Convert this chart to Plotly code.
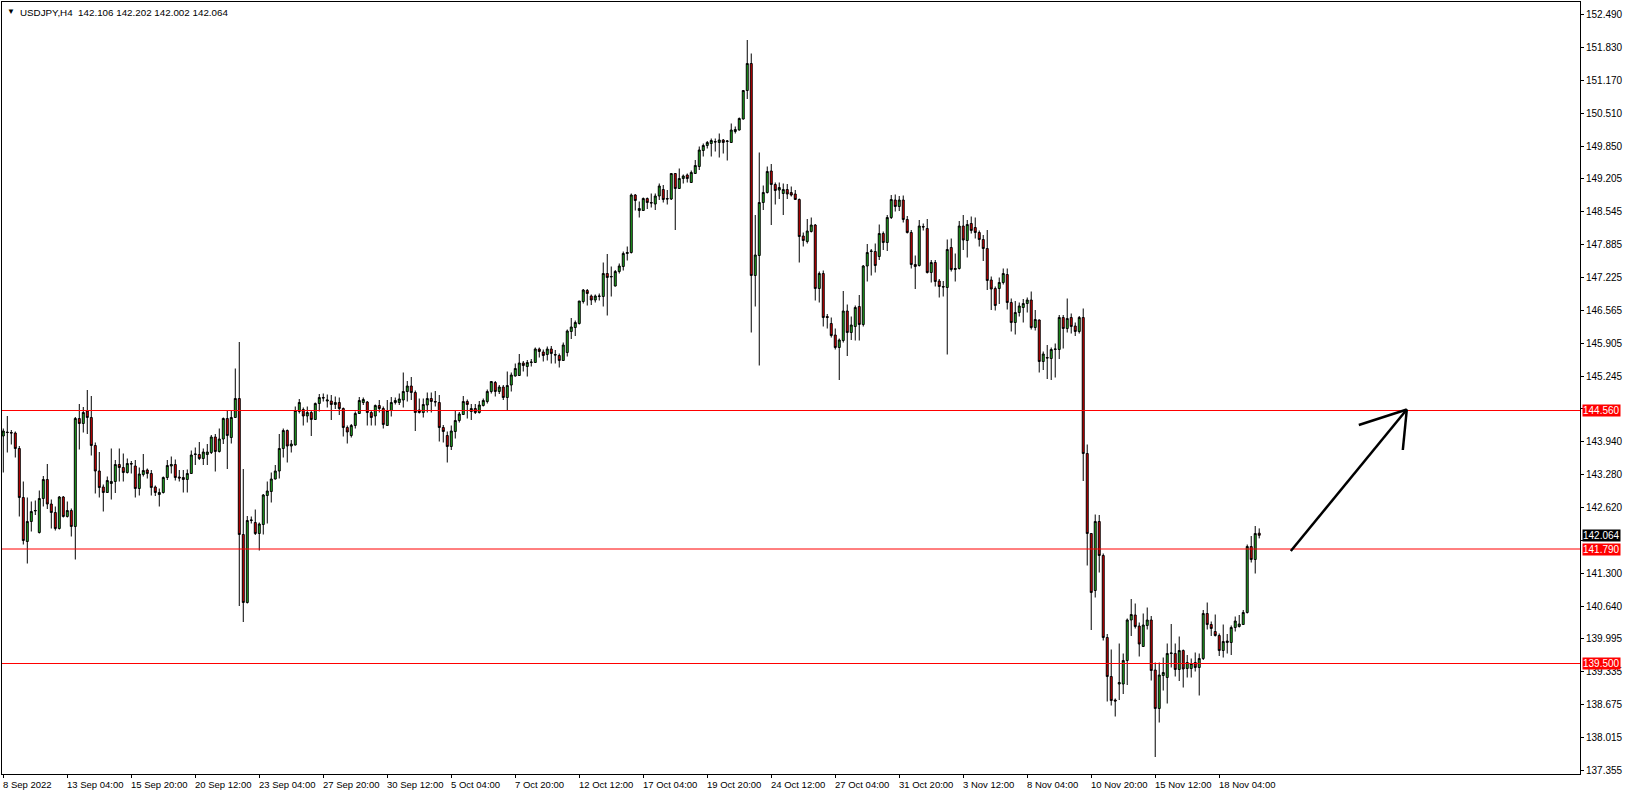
import plotly.graph_objects as go

symbol_header = "USDJPY,H4\u00a0\u00a0142.106 142.202 142.002 142.064"

opens = [
144.05,144.13,144.12,144.11,143.80,142.82,141.94,142.34,142.55,142.12,
142.80,143.18,142.69,142.52,142.20,142.83,142.44,142.56,142.24,144.40,
144.30,144.55,144.42,143.86,143.35,143.03,142.92,143.10,143.14,143.48,
143.42,143.32,143.50,143.45,143.00,143.28,143.37,143.30,143.03,142.88,
142.92,143.22,143.45,143.48,143.23,143.22,143.18,143.30,143.68,143.68,
143.60,143.68,143.72,144.03,143.74,143.99,144.40,144.02,144.42,144.80,
142.08,140.72,142.36,142.32,142.10,142.28,142.86,142.94,143.19,143.35,
143.80,144.16,143.85,143.87,144.54,144.58,144.45,144.52,144.38,144.70,
144.82,144.75,144.75,144.68,144.72,144.60,144.22,144.06,144.26,144.50,
144.72,144.73,144.52,144.45,144.66,144.60,144.26,144.56,144.72,144.72,
144.77,144.94,145.05,144.92,144.57,144.52,144.67,144.80,144.74,144.72,
144.22,144.06,143.84,144.14,144.36,144.48,144.74,144.54,144.60,144.52,
144.66,144.74,144.94,145.12,144.94,145.03,144.82,145.07,145.25,145.26,
145.51,145.44,145.52,145.52,145.79,145.73,145.68,145.79,145.68,145.66,
145.56,145.72,146.14,146.22,146.30,146.74,146.96,146.85,146.77,146.84,
146.84,147.30,147.23,147.05,147.34,147.44,147.70,147.72,148.87,148.56,
148.56,148.80,148.72,148.69,148.85,148.98,148.80,148.79,149.30,149.00,
149.20,149.27,149.12,149.30,149.44,149.76,149.86,149.90,149.94,149.92,
149.97,149.94,149.92,150.14,150.17,150.39,150.96,151.50,147.26,147.66,
148.72,148.92,149.35,149.08,148.97,148.90,148.98,148.92,148.89,148.78,
148.05,147.94,148.14,148.27,147.00,147.30,146.44,146.30,146.07,145.82,
145.96,146.55,146.12,146.24,146.64,146.28,147.45,147.74,147.74,147.64,
148.10,147.92,148.42,148.77,148.64,148.77,148.38,148.12,147.48,147.46,
148.24,148.20,147.32,147.52,147.15,147.04,147.02,147.82,147.38,147.40,
148.25,147.96,148.30,148.22,148.12,147.98,147.80,147.17,147.00,147.00,
147.12,147.28,146.72,146.32,146.52,146.62,146.70,146.77,146.22,146.37,
145.54,145.62,145.60,145.78,145.78,146.42,146.20,146.42,146.25,146.14,
146.42,143.70,142.10,140.96,142.34,141.66,140.02,139.24,138.77,139.09,
139.09,139.56,140.37,140.47,140.25,139.84,140.26,140.37,139.37,138.60,
139.26,139.22,139.70,139.70,139.38,139.76,139.40,139.40,139.52,139.42,
139.60,140.50,140.28,140.14,140.06,139.76,139.92,139.92,140.22,140.24,
140.28,140.52,141.84,141.58,142.106]

highs = [
144.20,144.45,144.17,144.14,143.85,143.14,142.82,142.74,142.76,142.96,
143.25,143.49,142.78,142.64,142.85,142.85,142.74,142.60,144.43,144.69,
144.63,144.97,144.85,143.92,143.73,143.08,143.24,143.80,143.57,143.80,
143.70,143.60,143.55,143.57,143.42,143.69,143.40,143.37,143.06,143.00,
143.24,143.57,143.64,143.58,143.37,143.37,143.38,143.76,143.82,143.93,
143.80,143.89,144.07,144.09,144.20,144.42,144.57,144.57,145.40,145.93,
143.39,142.45,142.44,142.58,142.32,142.89,143.14,143.32,143.47,144.09,
144.20,144.18,143.97,144.64,144.79,144.62,144.64,144.55,144.72,144.89,
144.90,144.88,144.87,144.84,144.82,144.62,144.26,144.29,144.54,144.83,
144.82,144.75,144.56,144.68,144.77,144.64,144.77,144.83,144.82,144.90,
145.32,145.15,145.23,144.96,144.80,144.80,144.92,144.92,144.95,144.87,
144.27,144.14,144.26,144.57,144.53,144.85,144.78,144.69,144.69,144.75,
144.80,144.98,145.15,145.15,145.07,145.07,145.34,145.32,145.50,145.69,
145.55,145.57,145.59,145.82,145.82,145.78,145.84,145.85,145.77,145.70,
145.92,146.18,146.41,146.36,146.75,146.99,146.99,146.88,146.88,146.90,
147.52,147.69,147.44,147.37,147.50,147.74,147.84,148.90,148.89,148.74,
148.82,148.82,148.90,148.90,149.10,149.07,148.97,149.30,149.31,149.40,
149.28,149.30,149.36,149.57,149.84,149.90,149.95,150.00,150.00,150.10,
149.99,149.97,150.30,150.24,150.42,150.97,151.97,151.70,148.47,149.72,
149.06,149.44,149.49,149.12,149.12,149.10,149.09,149.04,148.97,148.80,
148.12,148.39,148.42,148.29,147.34,147.36,146.49,146.42,146.20,146.00,
146.95,146.68,146.44,146.66,146.87,147.47,147.89,147.79,147.90,148.28,
148.14,148.47,148.87,148.88,148.85,148.86,148.45,148.17,147.66,148.37,
148.30,148.39,147.57,147.57,147.19,147.15,147.98,148.00,147.70,148.35,
148.47,148.37,148.44,148.42,148.16,148.07,148.17,147.24,147.04,147.22,
147.40,147.40,146.80,146.75,146.72,146.79,146.82,146.94,146.57,146.38,
145.74,145.87,145.82,145.90,146.47,146.47,146.80,146.50,146.32,146.45,
146.60,143.88,142.11,142.48,142.47,141.70,140.09,139.78,138.80,139.90,
139.70,140.40,140.79,140.70,140.32,140.50,140.62,140.45,139.52,139.52,
139.62,139.90,140.29,139.90,140.04,139.78,139.67,139.60,139.72,139.70,
140.57,140.72,140.34,140.48,140.10,140.28,140.09,140.26,140.44,140.47,
140.57,141.88,142.05,142.25,142.202]

lows = [
143.32,143.72,143.88,143.62,142.44,141.88,141.50,142.14,142.47,142.10,
142.64,142.59,142.20,142.16,142.18,142.42,142.42,142.04,141.58,143.78,
144.12,144.09,143.66,142.90,142.82,142.54,142.91,142.78,142.91,143.14,
143.14,143.30,143.30,142.82,142.86,143.24,143.20,142.86,142.85,142.64,
142.90,143.17,143.30,143.16,143.14,142.92,142.92,143.29,143.47,143.57,
143.47,143.47,143.69,143.34,143.72,143.89,143.39,143.90,144.41,140.65,
140.33,140.70,142.30,142.07,141.76,142.08,142.30,142.72,143.18,143.20,
143.62,143.52,143.72,143.86,144.50,144.26,144.32,144.05,144.37,144.54,
144.74,144.62,144.37,144.59,144.47,144.04,143.90,144.02,144.20,144.49,
144.67,144.26,144.26,144.26,144.52,144.20,144.25,144.44,144.68,144.67,
144.62,144.74,144.77,144.15,144.50,144.42,144.52,144.52,144.64,143.94,
143.92,143.52,143.77,144.00,144.32,144.47,144.40,144.37,144.49,144.50,
144.64,144.70,144.90,144.84,144.89,144.77,144.57,144.94,145.24,145.25,
145.34,145.24,145.44,145.52,145.62,145.54,145.56,145.50,145.50,145.42,
145.55,145.64,145.99,146.05,146.28,146.70,146.66,146.67,146.72,146.76,
146.64,146.46,146.84,147.04,147.30,147.36,147.56,147.70,148.56,148.42,
148.55,148.59,148.62,148.57,148.77,148.72,148.68,148.77,148.17,148.99,
149.10,149.12,149.11,149.29,149.37,149.64,149.80,149.64,149.74,149.62,
149.70,149.56,149.91,150.10,150.16,150.38,150.79,146.12,146.64,145.46,
148.57,148.90,148.27,148.68,148.79,148.47,148.79,148.84,148.77,147.52,
147.84,147.90,148.12,146.76,146.72,146.24,146.20,146.02,145.78,145.17,
145.92,145.65,145.97,145.96,145.96,146.24,147.14,147.26,147.32,147.57,
147.77,147.75,148.39,148.54,148.55,148.32,148.10,147.40,146.99,147.44,
148.16,147.30,147.12,147.04,146.82,146.84,145.68,147.34,147.14,147.38,
147.77,147.62,148.10,148.00,147.84,147.55,146.97,146.57,146.56,146.69,
147.08,146.58,146.14,146.08,146.44,146.32,146.52,146.18,146.16,145.32,
145.37,145.19,145.17,145.22,145.59,145.80,146.12,146.10,146.05,146.10,
143.15,141.46,140.17,140.82,141.32,139.96,138.74,138.66,138.44,138.77,
138.89,139.07,140.05,140.20,139.64,139.83,140.18,139.16,137.63,138.32,
138.96,138.70,139.42,139.24,139.15,139.02,139.22,139.22,139.34,138.86,
139.57,140.18,140.05,140.04,139.65,139.62,139.70,139.67,140.14,140.22,
140.27,140.50,141.52,141.30,142.002]

closes = [
144.15,144.12,144.11,143.80,142.82,141.96,142.34,142.54,142.56,142.80,
143.18,142.69,142.52,142.20,142.83,142.44,142.56,142.24,144.40,144.30,
144.52,144.42,143.86,143.35,143.02,142.92,143.16,143.14,143.48,143.42,
143.32,143.50,143.49,143.00,143.29,143.36,143.30,143.02,142.92,142.92,
143.22,143.46,143.48,143.22,143.21,143.18,143.30,143.67,143.69,143.60,
143.73,143.73,144.03,143.74,143.99,144.40,144.06,144.42,144.80,142.08,
140.72,142.36,142.37,142.10,142.29,142.87,142.95,143.19,143.35,143.80,
144.16,143.85,143.89,144.56,144.72,144.45,144.52,144.38,144.70,144.82,
144.81,144.77,144.68,144.72,144.60,144.22,144.13,144.26,144.50,144.76,
144.78,144.52,144.42,144.66,144.60,144.28,144.56,144.72,144.76,144.79,
144.94,145.05,144.92,144.52,144.52,144.68,144.80,144.74,144.73,144.22,
144.14,143.84,144.15,144.36,144.49,144.74,144.68,144.60,144.52,144.67,
144.76,144.94,145.14,144.94,145.03,144.82,145.06,145.27,145.40,145.51,
145.46,145.52,145.53,145.79,145.74,145.66,145.79,145.70,145.67,145.56,
145.87,146.15,146.23,146.32,146.75,146.97,146.90,146.77,146.85,146.85,
147.30,147.22,147.24,147.34,147.45,147.70,147.72,148.87,148.76,148.60,
148.80,148.72,148.71,148.85,149.05,148.78,148.79,149.30,149.00,149.20,
149.25,149.20,149.32,149.46,149.77,149.86,149.92,149.96,149.93,149.97,
149.92,149.95,150.17,150.18,150.40,150.96,151.50,147.26,147.67,148.72,
148.92,149.34,149.08,148.96,149.02,148.98,148.89,148.87,148.78,148.04,
147.96,148.15,148.27,147.00,147.30,146.42,146.42,146.06,145.82,145.97,
146.55,146.12,146.27,146.62,146.28,147.45,147.72,147.75,147.46,148.10,
147.92,148.42,148.78,148.64,148.77,148.38,148.12,147.48,147.44,148.25,
148.23,147.32,147.52,147.14,147.04,147.03,147.78,147.38,147.40,148.25,
147.97,148.28,148.16,148.12,147.98,147.80,147.16,146.99,146.66,147.12,
147.30,146.72,146.32,146.52,146.65,146.70,146.77,146.22,146.38,145.54,
145.69,145.61,145.78,145.79,146.42,146.20,146.40,146.24,146.14,146.42,
143.70,142.10,140.92,142.34,141.66,140.02,139.24,138.76,138.75,139.12,
139.56,140.37,140.48,140.24,139.89,140.27,140.37,139.36,138.60,139.27,
139.32,139.70,139.71,139.38,139.76,139.39,139.52,139.50,139.42,139.60,
140.50,140.28,140.20,140.06,139.76,139.94,139.95,140.22,140.35,140.29,
140.52,141.84,141.58,142.10,142.064]

level_lines = [144.560, 141.790, 139.500]
last_price = 142.064

price_ticks = [137.355, 138.015, 138.675, 139.335, 139.995, 140.640, 141.300,
               141.960, 142.620, 143.280, 143.940, 144.600, 145.245, 145.905,
               146.565, 147.225, 147.885, 148.545, 149.205, 149.850, 150.510,
               151.170, 151.830, 152.490]
# tick labels that sit under the price boxes on the right axis
hidden_ticks = [141.960, 144.600]

date_labels = ["8 Sep 2022", "13 Sep 04:00", "15 Sep 20:00", "20 Sep 12:00",
               "23 Sep 04:00", "27 Sep 20:00", "30 Sep 12:00", "5 Oct 04:00",
               "7 Oct 20:00", "12 Oct 12:00", "17 Oct 04:00", "19 Oct 20:00",
               "24 Oct 12:00", "27 Oct 04:00", "31 Oct 20:00", "3 Nov 12:00",
               "8 Nov 04:00", "10 Nov 20:00", "15 Nov 12:00", "18 Nov 04:00"]
date_positions = [16 * i for i in range(len(date_labels))]

# hand-drawn arrow (bar index, price)
arrow_start = (321.9, 141.75)
arrow_tip = (350.9, 144.58)
arrow_barb_left = (338.9, 144.27)
arrow_barb_right = (349.9, 143.77)

bars = list(range(len(opens)))

FONT = "Liberation Sans, Arial, sans-serif"
GREEN = "#22B422"
RED = "#E00000"

fig = go.Figure()
fig.add_trace(go.Candlestick(
    x=bars, open=opens, high=highs, low=lows, close=closes,
    increasing=dict(line=dict(color="black", width=1), fillcolor=GREEN),
    decreasing=dict(line=dict(color="black", width=1), fillcolor=RED),
    whiskerwidth=0, showlegend=False, hoverinfo="skip",
))

shapes = []
for lv in level_lines:
    shapes.append(dict(type="line", xref="paper", x0=0, x1=1, yref="y", y0=lv, y1=lv,
                       line=dict(color="#FF0000", width=1), layer="above"))
for a, b in [(arrow_start, arrow_tip), (arrow_tip, arrow_barb_left), (arrow_tip, arrow_barb_right)]:
    shapes.append(dict(type="line", xref="x", yref="y", x0=a[0], y0=a[1], x1=b[0], y1=b[1],
                       line=dict(color="black", width=2.5), layer="above"))

annotations = []
annotations.append(dict(xref="paper", yref="paper", x=0, y=1, xanchor="left", yanchor="top",
                        xshift=3, yshift=-3, text="\u25BC", showarrow=False,
                        font=dict(family=FONT, size=8, color="black")))
annotations.append(dict(xref="paper", yref="paper", x=0, y=1, xanchor="left", yanchor="top",
                        xshift=16, yshift=-3, text=symbol_header, showarrow=False,
                        font=dict(family=FONT, size=9.8, color="black")))
for pos, lab in zip(date_positions, date_labels):
    annotations.append(dict(xref="x", yref="paper", x=pos, y=0, xanchor="left", yanchor="top",
                            xshift=-2, yshift=-3, text=lab, showarrow=False,
                            font=dict(family=FONT, size=9.5, color="black")))
for lv in level_lines:
    annotations.append(dict(xref="paper", yref="y", x=1, y=lv, xanchor="left", yanchor="middle",
                            xshift=2, text=f"{lv:.3f}", showarrow=False, bgcolor="#FF0000",
                            borderpad=0, font=dict(family=FONT, size=10, color="white")))
annotations.append(dict(xref="paper", yref="y", x=1, y=last_price, xanchor="left", yanchor="middle",
                        xshift=2, text=f"{last_price:.3f}", showarrow=False, bgcolor="black",
                        borderpad=0, font=dict(family=FONT, size=10, color="white")))

tick_text = ["" if v in hidden_ticks else f"{v:.3f}" for v in price_ticks]

fig.update_layout(
    width=1626, height=795,
    margin=dict(l=2, r=46, t=2, b=21),
    paper_bgcolor="white", plot_bgcolor="white",
    showlegend=False,
    shapes=shapes, annotations=annotations,
    font=dict(family=FONT, size=10, color="black"),
    xaxis=dict(range=[-0.325, 394.2], rangeslider=dict(visible=False), showgrid=False,
               zeroline=False, showline=True, mirror=True, linecolor="black", linewidth=1,
               ticks="outside", ticklen=3, tickcolor="black", tickvals=date_positions,
               showticklabels=False, fixedrange=True),
    yaxis=dict(range=[137.29, 152.73], side="right", showgrid=False, zeroline=False,
               showline=True, mirror=True, linecolor="black", linewidth=1,
               ticks="outside", ticklen=3, tickcolor="black",
               tickvals=price_ticks, ticktext=tick_text,
               tickfont=dict(family=FONT, size=10, color="black"), fixedrange=True),
)

fig.write_html("out.html", config={"displayModeBar": False},
               post_script="document.body.style.margin='0';document.body.style.overflow='hidden';")
